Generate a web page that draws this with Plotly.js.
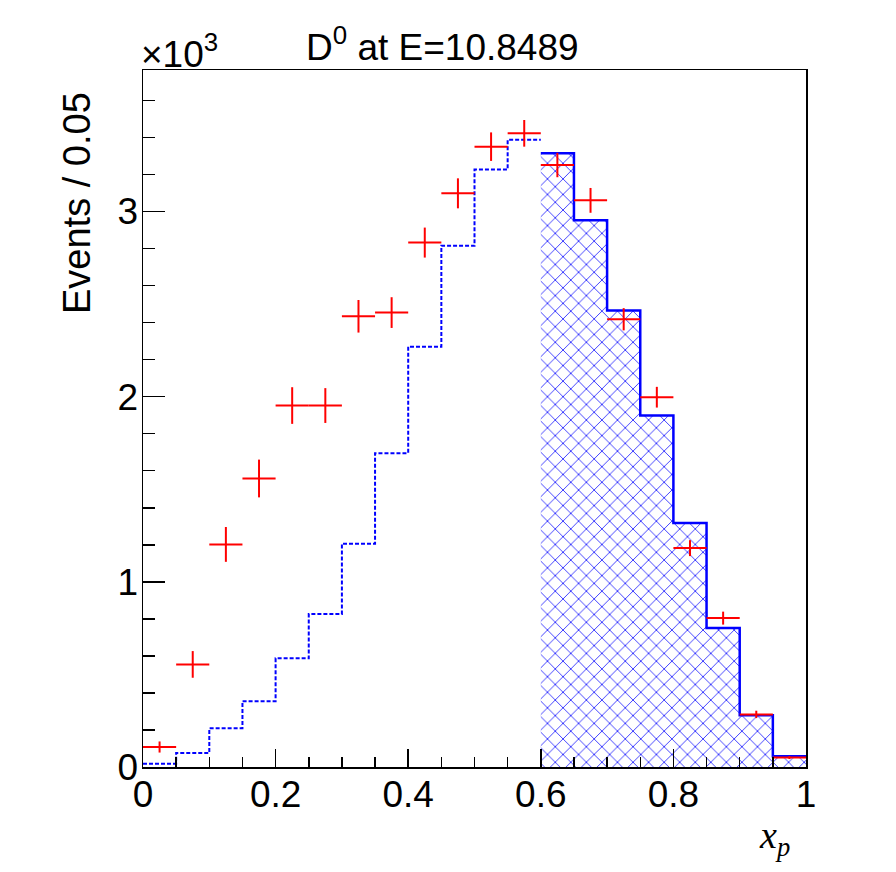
<!DOCTYPE html>
<html>
<head>
<meta charset="utf-8">
<script src="https://cdn.plot.ly/plotly-3.0.1.min.js"></script>
<style>html,body{margin:0;padding:0;background:#fff;}#plot{width:896px;height:872px;}</style>
</head>
<body>
<div id="plot"></div>
<script>
// Bin lower edges (bin width 0.05)
var binLow = [0.00,0.05,0.10,0.15,0.20,0.25,0.30,0.35,0.40,0.45,0.50,0.55,0.60,0.65,0.70,0.75,0.80,0.85,0.90,0.95];
var binWidth = 0.05;
// Simulation histogram (events per bin); first 12 bins dotted, last 8 hatched
var simValues = [18,76,209,355,587,826,1206,1695,2270,2815,3226,3387,3314,2952,2465,1898,1317,750,279,58];
// Data points (red) at bin centres
var dataX = [0.025,0.075,0.125,0.175,0.225,0.275,0.325,0.375,0.425,0.475,0.525,0.575,0.625,0.675,0.725,0.775,0.825,0.875,0.925,0.975];
var dataY = [108,554,1202,1558,1952,1952,2434,2454,2832,3098,3350,3422,3251,3060,2418,1997,1182,804,284,51];
var dataErr = [30,72,94,102,99,94,88,83,81,81,77,72,66,67,60,56,43,35,20,8];
var splitAt = 0.6;

function stepTrace(lo, vals) {
  var x = lo.slice(); x.push(lo[lo.length-1] + binWidth);
  var y = vals.slice(); y.push(vals[vals.length-1]);
  return {x: x, y: y};
}
var loA = [], vA = [], loB = [], vB = [];
for (var i = 0; i < binLow.length; i++) {
  if (binLow[i] < splitAt - 1e-9) { loA.push(binLow[i]); vA.push(simValues[i]); }
  else { loB.push(binLow[i]); vB.push(simValues[i]); }
}
var sA = stepTrace(loA, vA), sB = stepTrace(loB, vB);

var traces = [
  {x: sA.x, y: sA.y, type: 'scatter', mode: 'lines', line: {shape: 'hv', color: 'blue', width: 2, dash: '4px,2px'}, hoverinfo: 'skip', showlegend: false},
  {x: sB.x, y: sB.y, type: 'scatter', mode: 'lines', fill: 'tozeroy', fillcolor: 'rgba(0,0,0,0)',
   fillpattern: {shape: 'x', size: 11, solidity: 0.13, fgcolor: 'blue', bgcolor: 'white'},
   line: {shape: 'hv', color: 'blue', width: 2.5}, hoverinfo: 'skip', showlegend: false},
  {x: dataX, y: dataY, type: 'scatter', mode: 'markers', marker: {size: 1, color: 'red'},
   error_x: {type: 'constant', value: binWidth/2, color: 'red', thickness: 2, width: 0},
   error_y: {type: 'data', array: dataErr, color: 'red', thickness: 2, width: 0},
   showlegend: false}
];

var yTickVals = [0,1000,2000,3000];
var yTickText = ['0','1','2','3'];
var font = 'Liberation Sans, Arial, Helvetica, sans-serif';

var layout = {
  width: 896, height: 872,
  margin: {l: 143, r: 90, t: 69.5, b: 105, pad: 0},
  paper_bgcolor: 'white', plot_bgcolor: 'white',
  showlegend: false,
  font: {family: font, size: 37, color: 'black'},
  xaxis: {
    range: [0, 1], tick0: 0, dtick: 0.2, ticks: 'inside', ticklen: 18, tickwidth: 1.5, tickcolor: 'black',
    showgrid: false, zeroline: false, showline: true, linecolor: 'black', linewidth: 1.5, mirror: true,
    tickfont: {family: font, size: 37, color: 'black'}, ticklabelstandoff: -6,
    minor: {tick0: 0, dtick: 0.05, ticks: 'inside', ticklen: 10, tickwidth: 1.5, tickcolor: 'black', showgrid: false},
    fixedrange: true
  },
  yaxis: {
    range: [0, 3764], tickmode: 'array', tickvals: yTickVals, ticktext: yTickText,
    ticks: 'inside', ticklen: 22, tickwidth: 1.5, tickcolor: 'black',
    showgrid: false, zeroline: false, showline: true, linecolor: 'black', linewidth: 1.5, mirror: true,
    tickfont: {family: font, size: 37, color: 'black'}, ticklabelstandoff: -4,
    minor: {tickmode: 'linear', tick0: 0, dtick: 200, ticks: 'inside', ticklen: 12, tickwidth: 1.5, tickcolor: 'black', showgrid: false},
    fixedrange: true
  },
  annotations: [
    {text: 'D<sup>0</sup> at E=10.8489', xref: 'paper', yref: 'paper', x: 0.452, y: 1.0, yshift: 0, xanchor: 'center', yanchor: 'bottom', showarrow: false, font: {family: font, size: 37, color: 'black'}},
    {text: '×10<sup>3</sup>', xref: 'paper', yref: 'paper', x: 0, xshift: -4, y: 1.0, yshift: -7, xanchor: 'left', yanchor: 'bottom', showarrow: false, font: {family: font, size: 37, color: 'black'}},
    {text: 'Events / 0.05', xref: 'paper', yref: 'paper', x: 0, xshift: -66, y: 1.0, yshift: -20, xanchor: 'center', yanchor: 'top', textangle: -90, showarrow: false, font: {family: font, size: 38, color: 'black'}},
    {text: '<i>x</i><sub><i>p</i></sub>', xref: 'paper', yref: 'paper', x: 1.0, xshift: -14, y: 0, yshift: -45, xanchor: 'right', yanchor: 'top', showarrow: false, font: {family: 'Liberation Serif, Times New Roman, serif', size: 38, color: 'black'}}
  ]
};

Plotly.newPlot('plot', traces, layout, {displayModeBar: false, staticPlot: true});
</script>
</body>
</html>
